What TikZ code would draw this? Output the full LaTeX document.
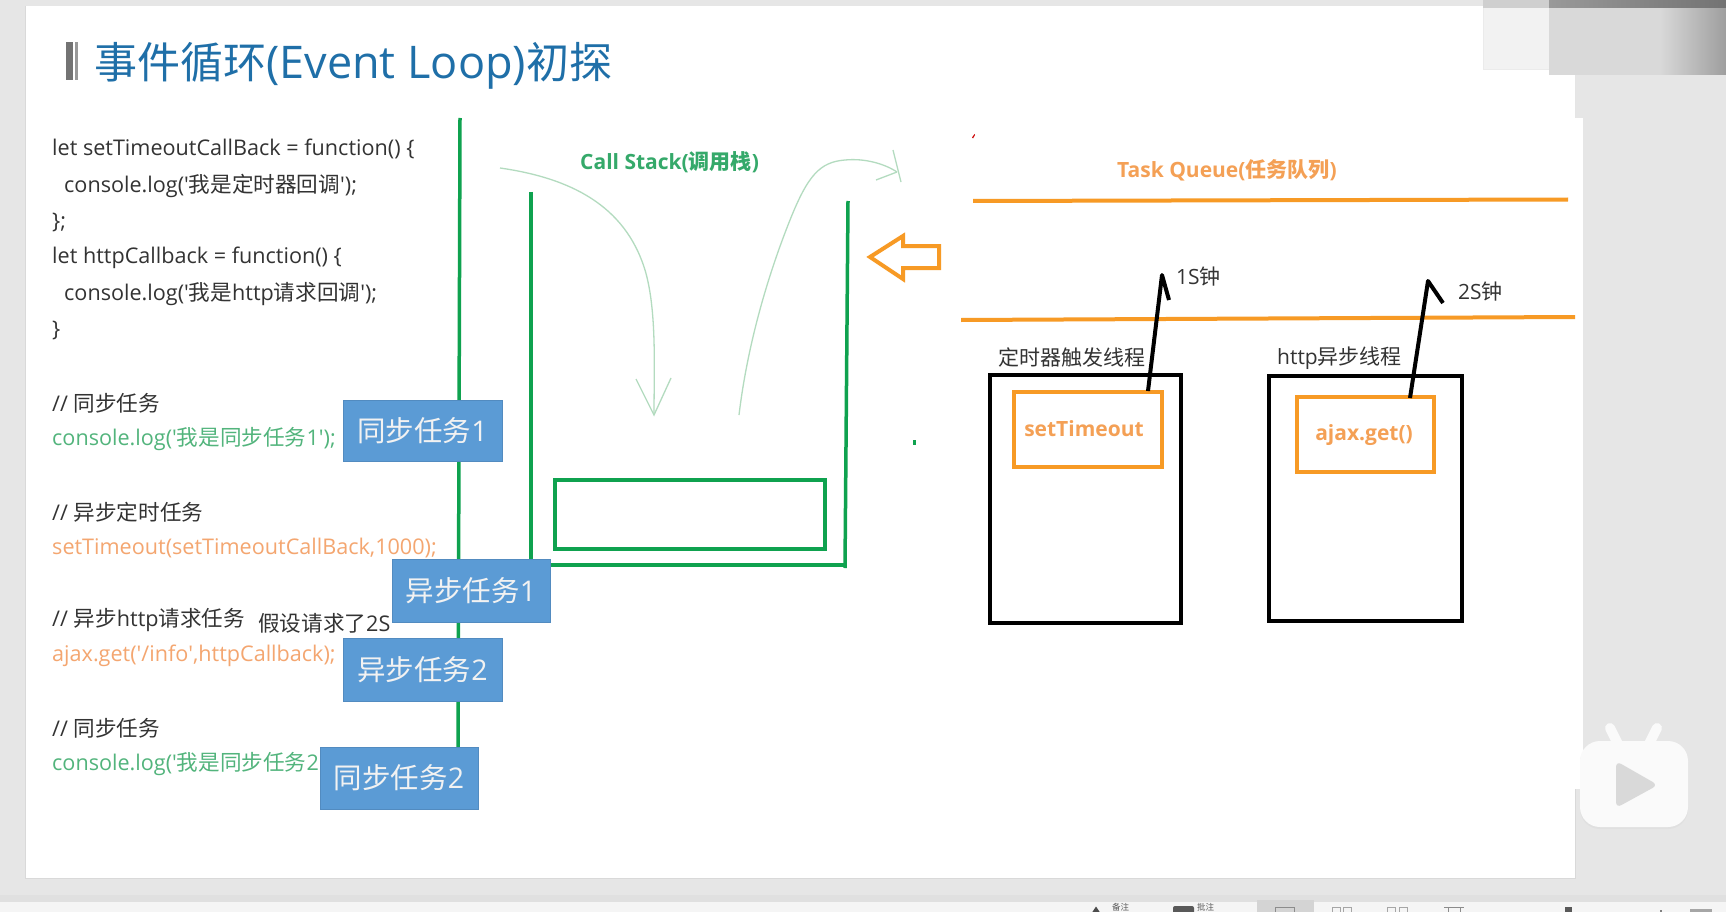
\documentclass[tikz,border=0pt]{standalone}
\usepackage{fontspec}
\newfontfamily\lat{Open Sans}
\newfontfamily\cjk{Noto Sans CJK SC}
\newcommand{\C}[1]{{\cjk #1}}
\definecolor{pagegrey}{HTML}{E6E6E6}
\definecolor{gr}{HTML}{0FA24F}
\definecolor{grtxt}{HTML}{52B47C}
\definecolor{grhead}{HTML}{35A96A}
\definecolor{grcurve}{HTML}{B3DBBF}
\definecolor{or}{HTML}{F79A25}
\definecolor{ortxt}{HTML}{F4A670}
\definecolor{orhead}{HTML}{F4A055}
\definecolor{bl}{HTML}{5B9BD5}
\definecolor{titleblue}{HTML}{1F6FA8}
\definecolor{codegrey}{HTML}{333333}
\tikzset{
  code/.style={anchor=west,inner sep=0pt,font=\lat\fontsize{21.6}{25}\selectfont,text=codegrey},
  codegr/.style={code,text=grtxt},
  codeor/.style={code,text=ortxt},
  bluebox/.style={fill=bl,draw=bl!90!black,line width=0.6pt,inner sep=0pt,text=white!95!black,font=\lat\fontsize{28.5}{32}\selectfont},
  greenline/.style={draw=gr,line width=3.5pt},
  orline/.style={draw=or,line width=4pt},
  blackline/.style={draw=black,line width=4pt},
  sketch/.style={draw=grcurve,line width=1.3pt},
  head/.style={inner sep=0pt,font=\lat\bfseries\fontsize{21}{25}\selectfont},
  lab/.style={inner sep=0pt,font=\lat\fontsize{21}{25}\selectfont,text=codegrey},
  barlab/.style={inner sep=0pt,anchor=west,text=black!65,font=\cjk\fontsize{8.5}{9}\selectfont},
}
\begin{document}
\begin{tikzpicture}[x=1pt,y=-1pt]
\useasboundingbox (0,0) rectangle (1726,912);
% window
\fill[pagegrey] (0,0) rectangle (1726,912);
\fill[white] (25,6) rectangle (1575,878);
\draw[black!15,line width=0.8pt] (25,6) -- (25,878) -- (1575,878) -- (1575,789);
\fill[white] (1575,118) rectangle (1583,789);
\draw[black!10,line width=1pt] (1575,76) -- (1575,118);
\fill[black!12] (0,895) rectangle (1726,902);
\fill[black!4] (0,902) rectangle (1726,912);
\fill[black!17] (1257,900) rectangle (1314,912);
% status bar, cut off by the edge of the picture
\begin{scope}
\clip (0,902) rectangle (1726,912);
\fill[black!70] (1096,906.5) -- (1101,914) -- (1091,914) -- cycle;
\fill[black!65,rounded corners=2pt] (1173,906) rectangle (1194,920);
\draw[black!45,line width=1pt] (1275,907) rectangle (1294,920);
\draw[black!35,line width=1pt] (1332,907) rectangle (1340,920) (1343,907) rectangle (1351,920);
\draw[black!35,line width=1pt] (1387,907) rectangle (1395,920) (1399,907) rectangle (1407,920);
\draw[black!45,line width=1pt] (1444,907) -- (1464,907) (1448,907) rectangle (1460,920);
\fill[black!65] (1565,907) rectangle (1572,920);
\fill[black!50] (1660,910) rectangle (1662,920);
\fill[black!35] (1690,909) rectangle (1712,912);
\end{scope}
\node[barlab] (note) at (1112,907) {备注};
\node[barlab] (comment) at (1197,907) {批注};
% top-right blurred overlay
\fill[black!5] (1483,8) rectangle (1549,70);
\draw[black!8,line width=1pt] (1483,8) -- (1483,70) -- (1549,70);
\fill[black!19] (1483,0) rectangle (1549,8);
\fill[black!15] (1549,8) rectangle (1660,75);
\shade[left color=black!15,right color=black!38] (1660,8) rectangle (1726,75);
\shade[left color=black!40,right color=black!55] (1549,0) rectangle (1726,8);
% title
\fill[black!55] (66,42) rectangle (73,80);
\fill[black!40] (75,42) rectangle (78,80);
\node[anchor=west,inner sep=0pt,text=titleblue,font=\lat\fontsize{45}{48}\selectfont] (title) at (94,66) {\C{\fontsize{43}{48}\selectfont 事件循环}(Event Loop)\C{\fontsize{43}{48}\selectfont 初探}};
% green spine and stack
\coordinate (spineTop) at (460,118);
\coordinate (spineBot) at (458,748);
\draw[greenline] (spineTop) -- (spineBot);
\coordinate (stackLT) at (531,192);
\coordinate (stackLB) at (531,560);
\coordinate (stackRT) at (848,201);
\coordinate (stackRB) at (845,568);
\coordinate (stackBL) at (551,565);
\coordinate (stackBR) at (845,565);
\draw[greenline] (stackLT) -- (stackLB);
\draw[greenline] (stackRT) -- (stackRB);
\draw[greenline] (stackBL) -- (stackBR);
\node[draw=gr,line width=4pt,minimum width=270pt,minimum height=69pt,inner sep=0pt] (frame) at (690,514) {};
% sketches
\coordinate (s1) at (500,168);
\coordinate (s1e) at (654,415);
\draw[sketch] (s1) .. controls (570,178) and (625,205) .. (645,270) .. controls (657,310) and (654,370) .. (s1e);
\draw[sketch] (636,379) -- (s1e) -- (671,378);
\coordinate (s2) at (739,415);
\coordinate (s2e) at (897,172);
\draw[sketch] (s2) .. controls (748,340) and (770,270) .. (790,220) .. controls (808,175) and (820,162) .. (845,160) .. controls (865,158) and (885,164) .. (s2e);
\draw[sketch] (s2e) -- (876,180);
\draw[sketch] (893,150) -- (901,182);
\node[head,text=grhead,anchor=west] (cs) at (580,162) {Call Stack(\C{调用栈})};
% code
\node[code] (c1) at (52,149) {let setTimeoutCallBack = function() \{};
\node[code] (c2) at (64,186) {console.log('\C{我是定时器回调}');};
\node[code] (c3) at (52,222) {\};};
\node[code] (c4) at (52,258) {let httpCallback = function() \{};
\node[code] (c5) at (64,294) {console.log('\C{我是}http\C{请求回调}');};
\node[code] (c6) at (52,330) {\}};
\node[code] (c7) at (52,403) {// \C{同步任务}};
\node[codegr] (c8) at (52,439) {console.log('\C{我是同步任务}1');};
\node[code] (c9) at (52,512) {// \C{异步定时任务}};
\node[codeor] (c10) at (52,548) {setTimeout(setTimeoutCallBack,1000);};
\node[code] (c11) at (52,620) {// \C{异步}http\C{请求任务}};
\node[code] (c11b) at (258,623) {\C{假设请求了}2S};
\node[codeor] (c12) at (52,656) {ajax.get('/info',httpCallback);};
\node[code] (c13) at (52,728) {// \C{同步任务}};
\begin{scope}
\clip (40,740) rectangle (320,790);
\node[codegr] (c14) at (52,764) {console.log('\C{我是同步任务}2');};
\end{scope}
% blue boxes
\node[bluebox,minimum width=159pt,minimum height=61pt] (t1) at (422.5,430.5) {\C{同步任务}1};
\node[bluebox,minimum width=158pt,minimum height=63pt] (t2) at (471,590.5) {\C{异步任务}1};
\node[bluebox,minimum width=159pt,minimum height=63pt] (t3) at (422.5,669.5) {\C{异步任务}2};
\node[bluebox,minimum width=158pt,minimum height=62pt] (t4) at (399,778) {\C{同步任务}2};
% right side
\draw[orline,line join=miter] (870,257) -- (903,236) -- (903,246) -- (939,246) -- (939,268) -- (903,268) -- (903,279) -- cycle;
\node[head,text=orhead,anchor=west] (tq) at (1117,170) {Task Queue(\C{任务队列})};
\coordinate (q1a) at (973,201); \coordinate (q1b) at (1568,199.5);
\coordinate (q2a) at (961,320); \coordinate (q2b) at (1575,317);
\draw[orline] (q1a) -- (q1b);
\draw[orline] (q2a) -- (q2b);
\fill[red!80!black] (972,137.5) -- (974.5,134) -- (975,135) -- (973,138.5) -- cycle;
\fill[gr] (912.5,440) rectangle (915.5,445);
\node[blackline,minimum width=191pt,minimum height=248pt,inner sep=0pt] (b1) at (1085.5,499) {};
\node[blackline,minimum width=193pt,minimum height=245pt,inner sep=0pt] (b2) at (1365.5,498.5) {};
\node[orline,minimum width=148pt,minimum height=75pt,inner sep=0pt] (o1) at (1088,429.5) {};
\node[orline,minimum width=137pt,minimum height=75pt,inner sep=0pt] (o2) at (1365.5,434.5) {};
\node[head,text=orhead] (st) at (1084,429) {setTimeout};
\node[head,text=orhead] (aj) at (1364,435) {ajax.get()};
\node[lab,anchor=west] (l1) at (998,357) {\C{定时器触发线程}};
\node[lab,anchor=west] (l2) at (1277,358) {http\C{异步线程}};
\node[lab,anchor=west] (l3) at (1176,277) {1S\C{钟}};
\node[lab,anchor=west] (l4) at (1458,292) {2S\C{钟}};
\coordinate (a1s) at (1148,391); \coordinate (a1e) at (1162,275); \coordinate (a1b) at (1169,300);
\coordinate (a2s) at (1410,398); \coordinate (a2e) at (1428,281); \coordinate (a2b) at (1443,303);
\draw[blackline,line join=round] (a1s) -- (a1e) -- (a1b);
\draw[blackline,line join=round] (a2s) -- (a2e) -- (a2b);
% video-site logo
\fill[black!12,rounded corners=20pt] (1580,743) rectangle (1688,829);
\fill[white!98!black,rounded corners=20pt] (1580,741) rectangle (1688,827);
\draw[white!98!black,line width=10pt,line cap=round] (1610,728) -- (1618,744);
\draw[white!98!black,line width=10pt,line cap=round] (1657,728) -- (1649,744);
\fill[black!15,rounded corners=6pt] (1616,761) -- (1658,785) -- (1616,808) -- cycle;
\end{tikzpicture}
\end{document}
